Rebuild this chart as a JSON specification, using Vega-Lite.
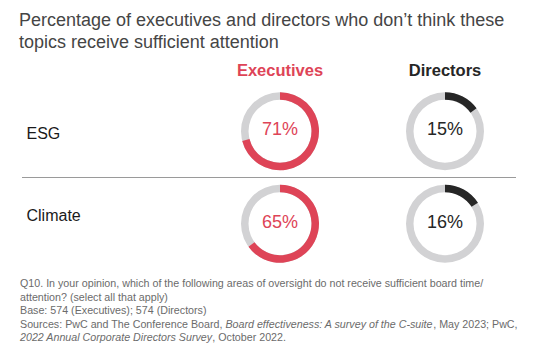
{
  "$schema": "https://vega.github.io/schema/vega-lite/v6.json",
  "width": 547,
  "height": 360,
  "autosize": {"type": "none"},
  "padding": 0,
  "background": "white",
  "config": {"view": {"stroke": null}, "font": "Liberation Sans"},
  "title": {
    "text": ["Percentage of executives and directors who don’t think these", "topics receive sufficient attention"],
    "anchor": "start",
    "frame": "group",
    "orient": "top",
    "offset": -52,
    "dx": 19,
    "fontSize": 18,
    "lineHeight": 22,
    "fontWeight": "normal",
    "font": "Liberation Sans",
    "color": "#454545"
  },
  "datasets": {
    "donuts": [
      {"topic": "ESG", "group": "Executives", "value": 0.71},
      {"topic": "ESG", "group": "Directors", "value": 0.15},
      {"topic": "Climate", "group": "Executives", "value": 0.65},
      {"topic": "Climate", "group": "Directors", "value": 0.16}
    ],
    "notes": [
      {"line": 1, "part": "a", "text": "Q10. In your opinion, which of the following areas of oversight do not receive sufficient board time/"},
      {"line": 2, "part": "a", "text": "attention? (select all that apply)"},
      {"line": 3, "part": "a", "text": "Base: 574 (Executives); 574 (Directors)"},
      {"line": 4, "part": "a", "text": "Sources: PwC and The Conference Board, "},
      {"line": 4, "part": "b", "text": "Board effectiveness: A survey of the C-suite"},
      {"line": 4, "part": "c", "text": ", May 2023; PwC,"},
      {"line": 5, "part": "d", "text": "2022 Annual Corporate Directors Survey"},
      {"line": 5, "part": "e", "text": ", October 2022."}
    ]
  },
  "resolve": {"scale": {"y": "independent"}},
  "layer": [
    {
      "data": {"name": "donuts"},
      "mark": {"type": "arc", "theta": 0, "theta2": 6.2832, "radius": 39, "radius2": 31.5, "color": "#d2d2d4"},
      "encoding": {
        "x": {"field": "group", "type": "nominal", "scale": {"type": "point", "domain": ["Executives", "Directors"], "range": [280, 445], "padding": 0}, "axis": null},
        "y": {"field": "topic", "type": "nominal", "scale": {"type": "band", "domain": ["ESG", "Climate"], "range": [85, 270], "paddingInner": 0, "paddingOuter": 0}, "axis": null}
      }
    },
    {
      "data": {"name": "donuts"},
      "mark": {"type": "arc", "radius": 39, "radius2": 31.5},
      "encoding": {
        "x": {"field": "group", "type": "nominal", "scale": {"type": "point", "domain": ["Executives", "Directors"], "range": [280, 445], "padding": 0}, "axis": null},
        "y": {"field": "topic", "type": "nominal", "scale": {"type": "band", "domain": ["ESG", "Climate"], "range": [85, 270], "paddingInner": 0, "paddingOuter": 0}, "axis": null},
        "theta": {"field": "value", "type": "quantitative", "scale": {"domain": [0, 1], "range": [0, 6.2832]}, "stack": null},
        "theta2": {"datum": 0},
        "color": {"field": "group", "type": "nominal", "scale": {"domain": ["Executives", "Directors"], "range": ["#de4457", "#262626"]}, "legend": null}
      }
    },
    {
      "data": {"name": "donuts"},
      "mark": {"type": "text", "fontSize": 18, "align": "center", "baseline": "middle", "font": "Liberation Sans"},
      "encoding": {
        "x": {"field": "group", "type": "nominal", "scale": {"type": "point", "domain": ["Executives", "Directors"], "range": [280, 445], "padding": 0}, "axis": null},
        "y": {"field": "topic", "type": "nominal", "scale": {"type": "band", "domain": ["ESG", "Climate"], "range": [84, 269], "paddingInner": 0, "paddingOuter": 0}, "axis": null},
        "text": {"field": "value", "type": "quantitative", "format": ".0%"},
        "color": {"field": "group", "type": "nominal", "legend": null}
      }
    },
    {
      "data": {"name": "donuts"},
      "transform": [{"filter": "datum.topic === 'ESG'"}],
      "mark": {"type": "text", "fontSize": 16.5, "fontWeight": "bold", "align": "center", "baseline": "middle", "font": "Liberation Sans"},
      "encoding": {
        "x": {"field": "group", "type": "nominal", "scale": {"type": "point", "domain": ["Executives", "Directors"], "range": [280, 445], "padding": 0}, "axis": null},
        "y": {"value": 71},
        "text": {"field": "group", "type": "nominal"},
        "color": {"field": "group", "type": "nominal", "legend": null}
      }
    },
    {
      "data": {"name": "donuts"},
      "transform": [{"filter": "datum.group === 'Executives'"}],
      "mark": {"type": "text", "fontSize": 16, "align": "left", "baseline": "middle", "color": "#1a1a1a", "font": "Liberation Sans"},
      "encoding": {
        "x": {"value": 26.5},
        "y": {"field": "topic", "type": "nominal", "scale": {"type": "band", "domain": ["ESG", "Climate"], "range": [93.6, 256.4], "paddingInner": 0, "paddingOuter": 0}, "axis": null},
        "text": {"field": "topic", "type": "nominal"}
      }
    },
    {
      "data": {"name": "donuts"},
      "transform": [{"filter": "datum.group === 'Executives' && datum.topic === 'ESG'"}],
      "mark": {"type": "rule", "color": "#9a9a9a", "strokeWidth": 1},
      "encoding": {
        "x": {"value": 22},
        "x2": {"value": 516},
        "y": {"field": "topic", "type": "nominal", "bandPosition": 1, "scale": {"type": "band", "domain": ["ESG", "Climate"], "range": [85, 270], "paddingInner": 0, "paddingOuter": 0}, "axis": null}
      }
    },
    {
      "data": {"name": "notes"},
      "transform": [{"filter": "datum.part === 'a'"}],
      "mark": {"type": "text", "fontSize": 10.7, "align": "left", "baseline": "middle", "color": "#6b6b6b", "font": "Liberation Sans"},
      "encoding": {
        "x": {"value": 20},
        "y": {"field": "line", "type": "quantitative", "scale": {"domain": [1, 5], "range": [284, 338]}, "axis": null},
        "text": {"field": "text", "type": "nominal"}
      }
    },
    {
      "data": {"name": "notes"},
      "transform": [{"filter": "datum.part === 'b'"}],
      "mark": {"type": "text", "fontSize": 10.7, "fontStyle": "italic", "align": "left", "baseline": "middle", "color": "#6b6b6b", "font": "Liberation Sans"},
      "encoding": {
        "x": {"value": 225.4},
        "y": {"field": "line", "type": "quantitative", "scale": {"domain": [1, 5], "range": [284, 338]}, "axis": null},
        "text": {"field": "text", "type": "nominal"}
      }
    },
    {
      "data": {"name": "notes"},
      "transform": [{"filter": "datum.part === 'c'"}],
      "mark": {"type": "text", "fontSize": 10.7, "align": "left", "baseline": "middle", "color": "#6b6b6b", "font": "Liberation Sans"},
      "encoding": {
        "x": {"value": 433.2},
        "y": {"field": "line", "type": "quantitative", "scale": {"domain": [1, 5], "range": [284, 338]}, "axis": null},
        "text": {"field": "text", "type": "nominal"}
      }
    },
    {
      "data": {"name": "notes"},
      "transform": [{"filter": "datum.part === 'd'"}],
      "mark": {"type": "text", "fontSize": 10.7, "fontStyle": "italic", "align": "left", "baseline": "middle", "color": "#6b6b6b", "font": "Liberation Sans"},
      "encoding": {
        "x": {"value": 20},
        "y": {"field": "line", "type": "quantitative", "scale": {"domain": [1, 5], "range": [284, 338]}, "axis": null},
        "text": {"field": "text", "type": "nominal"}
      }
    },
    {
      "data": {"name": "notes"},
      "transform": [{"filter": "datum.part === 'e'"}],
      "mark": {"type": "text", "fontSize": 10.7, "align": "left", "baseline": "middle", "color": "#6b6b6b", "font": "Liberation Sans"},
      "encoding": {
        "x": {"value": 212.3},
        "y": {"field": "line", "type": "quantitative", "scale": {"domain": [1, 5], "range": [284, 338]}, "axis": null},
        "text": {"field": "text", "type": "nominal"}
      }
    }
  ]
}
